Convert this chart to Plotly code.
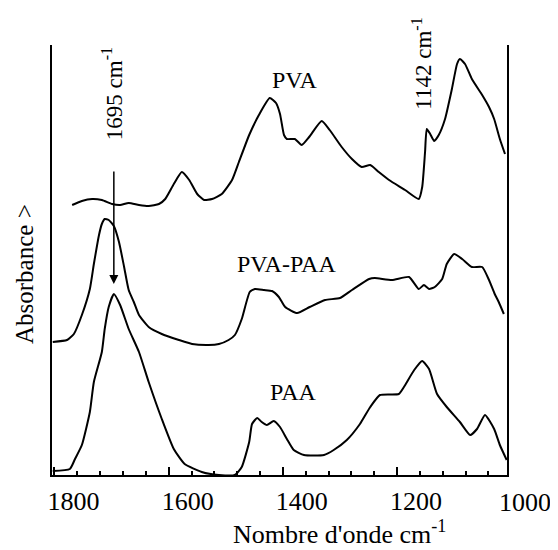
import plotly.graph_objects as go

# ---- data (wavenumber cm-1, absorbance a.u.) ----
pva_wn = [1769, 1752, 1734, 1717, 1699, 1685, 1670, 1652, 1635, 1617, 1606, 1591, 1577, 1564,
          1550, 1538, 1524, 1507, 1489, 1477, 1459, 1442, 1423, 1412, 1405, 1398, 1393, 1379,
          1367, 1354, 1332, 1318, 1297, 1279, 1262, 1247, 1232, 1214, 1186, 1162, 1156, 1151,
          1148, 1142, 1135, 1127, 1116, 1104, 1095, 1090, 1081, 1069, 1051, 1039, 1030, 1020, 1011]
pva_abs = [1.35, 1.37, 1.38, 1.375, 1.355, 1.35, 1.36, 1.35, 1.345, 1.355, 1.38, 1.455, 1.515, 1.475,
           1.405, 1.375, 1.38, 1.405, 1.475, 1.565, 1.70, 1.80, 1.885, 1.86, 1.805, 1.70, 1.68, 1.68,
           1.65, 1.69, 1.77, 1.725, 1.64, 1.58, 1.54, 1.55, 1.515, 1.475, 1.425, 1.38, 1.44, 1.615,
           1.73, 1.705, 1.67, 1.70, 1.78, 1.93, 2.055, 2.08, 2.055, 1.98, 1.90, 1.84, 1.78, 1.68, 1.605]

blend_wn = [1803, 1778, 1766, 1752, 1738, 1731, 1722, 1717, 1712, 1705, 1696, 1687, 1678, 1670,
            1661, 1652, 1635, 1612, 1582, 1559, 1530, 1512, 1495, 1484, 1472, 1458, 1449, 1433,
            1419, 1407, 1396, 1375, 1353, 1326, 1300, 1279, 1249, 1239, 1209, 1179, 1162, 1153,
            1144, 1134, 1121, 1113, 1100, 1086, 1069, 1051, 1039, 1029, 1022, 1013]
blend_abs = [0.665, 0.675, 0.705, 0.80, 0.93, 1.055, 1.20, 1.255, 1.28, 1.275, 1.245, 1.165, 1.04, 0.925,
             0.865, 0.80, 0.74, 0.705, 0.675, 0.655, 0.65, 0.655, 0.675, 0.70, 0.78, 0.915, 0.93, 0.925,
             0.92, 0.89, 0.84, 0.81, 0.84, 0.875, 0.885, 0.925, 0.98, 0.985, 0.975, 0.99, 0.93, 0.95,
             0.93, 0.94, 0.98, 1.055, 1.105, 1.08, 1.04, 1.04, 0.975, 0.905, 0.865, 0.805]

paa_wn = [1803, 1773, 1764, 1752, 1738, 1731, 1717, 1712, 1705, 1696, 1685, 1670, 1652, 1635,
          1612, 1591, 1572, 1542, 1512, 1484, 1472, 1459, 1454, 1445, 1437, 1428, 1416, 1405,
          1393, 1381, 1363, 1328, 1311, 1288, 1265, 1247, 1230, 1197, 1188, 1170, 1156, 1144,
          1130, 1113, 1090, 1072, 1060, 1046, 1030, 1020, 1008]
paa_abs = [0.02, 0.03, 0.08, 0.15, 0.315, 0.465, 0.615, 0.73, 0.84, 0.905, 0.85, 0.73, 0.615, 0.465,
           0.28, 0.13, 0.055, 0.015, 0.0, 0.0, 0.04, 0.165, 0.255, 0.285, 0.265, 0.25, 0.27, 0.24,
           0.18, 0.125, 0.10, 0.10, 0.125, 0.175, 0.255, 0.34, 0.40, 0.405, 0.44, 0.525, 0.57, 0.53,
           0.405, 0.34, 0.265, 0.20, 0.23, 0.30, 0.23, 0.15, 0.075]

series_names = ["PVA", "PVA-PAA", "PAA"]
tick_values = [1800, 1600, 1400, 1200, 1000]
marker_1695 = 1695
marker_1142 = 1142

SERIF = "Liberation Serif, Times New Roman, serif"
X_RANGE = [1804.3, 1007.5]
PLOT_W, PLOT_H = 455, 430
LABEL_SHIFT = 19  # tick labels sit right of their ticks in the original

fig = go.Figure()
for name, xs, ys in [(series_names[0], pva_wn, pva_abs),
                     (series_names[1], blend_wn, blend_abs),
                     (series_names[2], paa_wn, paa_abs)]:
    fig.add_trace(go.Scatter(x=xs, y=ys, mode="lines", name=name,
                             line=dict(color="black", width=2, shape="spline", smoothing=0.5),
                             showlegend=False, hoverinfo="skip"))

# the page body adds an ~8px offset, so the figure is made smaller accordingly
fig.update_layout(
    width=550, height=542,
    margin=dict(l=44, r=51, t=37, b=75, autoexpand=False),
    paper_bgcolor="white", plot_bgcolor="white",
    font=dict(family=SERIF, color="black"),
    xaxis=dict(range=X_RANGE, showgrid=False, zeroline=False, automargin=False,
               showline=True, linecolor="black", linewidth=2, mirror=False,
               tickvals=tick_values, ticks="inside", ticklen=8, tickwidth=1.5, tickcolor="black",
               minor=dict(dtick=40, tick0=1000, ticks="inside", ticklen=4, tickwidth=1.5, tickcolor="black"),
               tickfont=dict(family=SERIF, size=26, color="black"),
               ticklabelshift=-LABEL_SHIFT, ticklabelstandoff=2),
    yaxis=dict(range=[0, 2.15], showgrid=False, zeroline=False, automargin=False,
               showline=True, linecolor="black", linewidth=2, mirror=True,
               showticklabels=False, ticks=""),
)

ann_font = dict(family=SERIF, size=24, color="black")
common = dict(showarrow=False, xanchor="center", yanchor="middle")
fig.add_annotation(x=1379, y=1.975, text=series_names[0], font=ann_font, **common)
fig.add_annotation(x=1393, y=1.055, text=series_names[1], font=ann_font, **common)
fig.add_annotation(x=1382, y=0.415, text=series_names[2], font=ann_font, **common)

fig.add_annotation(x=marker_1695 + 4, y=1.905, text=f"{marker_1695} cm<sup>-1</sup>", textangle=-90,
                   font=dict(family=SERIF, size=23, color="black"), **common)
fig.add_annotation(x=marker_1142 + 15, y=2.055, text=f"{marker_1142} cm<sup>-1</sup>", textangle=-90,
                   font=dict(family=SERIF, size=23, color="black"), **common)

# arrow at 1695
fig.add_annotation(x=marker_1695 + 1, y=0.955, ax=marker_1695 + 1, ay=1.525,
                   xref="x", yref="y", axref="x", ayref="y",
                   showarrow=True, arrowhead=2, arrowsize=1.2, arrowwidth=1.5, arrowcolor="black", text="")

# last tick label (1000) lies just past the axis end, so draw it as paper text
last_tick_frac = (X_RANGE[0] - tick_values[-1]) / (X_RANGE[0] - X_RANGE[1])
fig.add_annotation(xref="paper", yref="paper",
                   x=last_tick_frac + (LABEL_SHIFT - 5) / PLOT_W, y=-27 / PLOT_H,
                   text=str(tick_values[-1]), font=dict(family=SERIF, size=26, color="black"), **common)

# axis titles (paper coords relative to the plot area)
fig.add_annotation(xref="paper", yref="paper", x=-28 / PLOT_W, y=201 / PLOT_H,
                   text="Absorbance >", textangle=-90,
                   font=dict(family=SERIF, size=25, color="black"), **common)
fig.add_annotation(xref="paper", yref="paper", x=287 / PLOT_W, y=-57 / PLOT_H,
                   text="Nombre d'onde cm<sup>-1</sup>",
                   font=dict(family=SERIF, size=26, color="black"), **common)

fig.write_html("out.html")
